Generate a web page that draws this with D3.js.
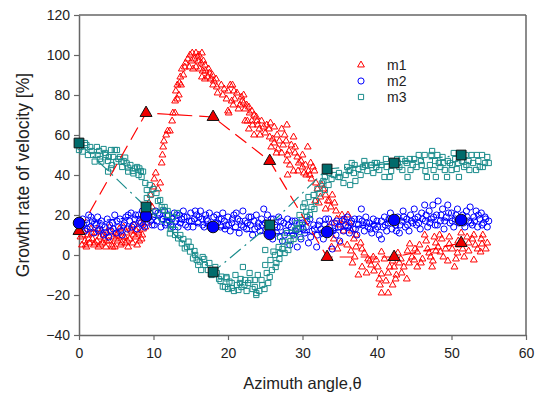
<!DOCTYPE html>
<html>
<head>
<meta charset="utf-8">
<script src="https://cdn.jsdelivr.net/npm/d3@7"></script>
<style>
  body { margin: 0; background: #fff; }
  svg text { font-family: Arial, "Liberation Sans", sans-serif; fill: #222; }
</style>
</head>
<body>
<div id="chart"></div>
<script>
// ---- data ----
const xTicks = [0, 10, 20, 30, 40, 50, 60];
const yTicks = [-40, -20, 0, 20, 40, 60, 80, 100, 120];
const seriesNames = ['m1', 'm2', 'm3'];

// averaged points (large markers, joined by dashed lines)
const keyAngles = [0, 9, 18, 25.6, 33.3, 42.3, 51.3];
const m1Key = [12, 71, 69, 47, -1, -1, 6];
const m2Key = [16, 19.5, 14, 10.5, 11.5, 17.5, 17.5];
const m3Key = [56, 24, -8.5, 15, 43, 46, 50];

// raw points [angle, growth rate]
const m1Pts = [
  [0.2,9],[0.4,5],[0.6,12],[0.8,7],[1.0,4],[1.2,10],[1.4,6],[1.6,13],[1.8,8],[2.0,5],[2.2,11],[2.4,7],
  [2.6,4],[2.8,9],[3.0,12],[3.2,6],[3.4,8],[3.6,4],[3.8,11],[4.0,7],[4.2,12],[4.4,5],[4.6,9],[4.8,4],
  [5.0,10],[5.2,7],[5.4,13],[5.6,5],[5.8,9],[6.0,14],[6.2,6],[6.4,11],[6.6,4],[6.8,8],[7.0,12],[7.2,6],
  [7.4,15],[7.6,9],[7.8,5],[8.0,11],[8.2,16],[8.4,8],[8.6,13],[8.8,18],
  [0.1,13],[0.5,10],[0.9,5],[1.3,8],[1.7,11],[2.1,6],[2.5,13],[2.9,5],[3.3,10],[3.7,7],[4.1,14],[4.5,4],
  [4.9,8],[5.3,11],[5.7,6],[6.1,9],[6.5,7],[6.9,13],[7.3,10],[7.7,12],[8.1,7],[8.5,10],[8.9,14],
  [9.0,22],[9.2,16],[9.4,26],[9.6,30],[9.8,24],[10.0,34],[10.1,38],[10.3,41],[10.6,33],[10.9,36],
  [11.1,46],[11.2,50],[11.3,54],[11.4,57],[11.7,60],[11.9,62],[12.2,62],[12.5,67],[12.6,71],[12.9,71],
  [12.9,77],[13.2,78],[13.4,80],[13.2,85],[13.5,86],[13.7,85],[13.6,89],[14.0,90],[13.8,93],[14.2,94],
  [14.6,98],[14.9,100],[13.0,82],[14.3,96],[14.8,94],[15.9,99],[16.9,95],[17.5,91],[17.9,90],[18.4,88],
  [15.2,101],[15.7,101],[16.1,100],[16.5,101],[15.1,97],[15.5,98],[16.0,97],[16.4,96],[16.7,97],
  [15.3,93],[15.7,94],[16.2,93],[16.6,92],[17.0,92],[17.4,93],[16.5,89],[16.9,88],[17.3,89],[17.7,88],
  [18.1,87],[18.0,85],[18.5,84],[19.1,85],[18.6,81],[19.3,80],[19.8,78],[20.0,72],
  [20.3,85],[20.6,85],[20.0,82],[20.8,82],[21.2,81],[21.8,79],[22.1,80],[20.5,77],[20.7,75],[21.6,75],
  [22.5,75],[22.1,76],[21.4,73],[22.3,73],[20.1,71],[22.9,71],[23.2,72],[23.5,70],[22.3,67],[22.6,67],
  [23.2,67],[23.9,67],[24.5,67],[25.7,66],[23.3,65],[24.0,65],[27.9,65],[22.8,63],[24.2,63],[25.5,63],
  [26.2,64],[27.2,63],[23.5,60],[24.3,60],[25.0,61],[25.6,59],[26.6,60],[27.6,60],[28.8,59],[25.8,54],
  [26.2,56],[26.7,53],[27.4,55],[28.5,55],[29.0,54],[30.7,54],[26.5,51],[27.2,51],[28.0,50],[29.0,51],
  [30.0,50],[27.9,47],[28.3,45],[29.5,46],[30.0,44],[31.1,46],[31.4,44],[28.8,42],[29.4,42],[30.2,41],
  [30.8,42],[31.6,42],[28.0,40],[30.5,40],[31.2,38],
  [19.5,83],[20.9,78],[21.9,77],[22.8,74],[23.8,69],[24.8,64],[25.2,65],[26.0,58],[26.9,57],[27.8,57],
  [28.2,52],[29.3,49],[29.8,47],[30.4,45],[31.0,40],[31.8,36],[32.8,33],[33.4,27],[34.5,22],[35.6,17],
  [32.6,35],[32.0,33],[33.1,30],[34.0,30],[32.4,29],[31.7,27],[32.2,26],[33.6,27],[34.3,26],[33.1,23],
  [33.8,24],[35.3,20],[36.1,20],[34.6,18],[33.9,16],[35.0,15],[36.3,16],[35.5,12],[36.6,12],[37.2,10],
  [34.2,8],[35.1,6],[33.9,4],[34.7,3],[36.0,5],[37.2,4],[36.5,2],[37.8,6],[38.3,1],[37.0,-1],[38.8,-2],
  [36.7,-4],[38.0,-6],[39.2,-5],[38.6,-9],[39.5,-1],[37.5,-10],[36.9,8],[38.0,3],[39.0,-3],[39.6,-8],
  [40.1,-6],[40.4,-15],[40.6,-19],[41.5,-19],[40.6,-9.5],[41.5,-9],[42.6,-10],[43.3,-9],[41.7,-6],
  [42.3,-6],[43.6,-6],[45.4,-6],[47.4,-6],[50.4,-6],[39.9,-2.5],[41.0,-2],[42.1,-3],[43.2,-2],[45.0,-2.5],
  [46.1,-2],[47.5,-3],[50.6,-2],[53.0,-2.5],[40.6,1.5],[42.8,1],[44.1,2],[45.4,1.5],[47.0,1],[47.9,2],
  [48.5,1.5],[50.8,1],[52.3,2],[53.9,1.5],[44.4,5.5],[45.7,5],[47.9,6],[49.7,5.5],[51.0,5],[52.3,6],
  [53.2,5],[54.1,5.5],[46.4,10],[48.4,10],[49.7,9],[53.0,10],[54.2,10],[42.1,-15],[44.7,-1],[46.8,3],
  [48.9,-1],[51.5,3],[52.8,8],[54.6,3],[49.2,3],[44.0,-12],
  [40.3,-12],[41.2,-13],[42.5,-12],[43.0,-4],[44.3,-4],[45.1,3],[45.9,-4],[46.6,7],[47.2,-1],[48.2,4],
  [48.7,8],[49.5,-3],[50.1,3],[50.9,7],[51.7,-1],[52.1,9],[53.5,3],[54.0,8],[54.8,6],[47.7,9],[51.3,11]
];

const m2Pts = [
  [0.3,14],[0.5,18],[0.8,12],[1.0,16],[1.3,20],[1.5,14],[1.8,17],[2.0,11],[2.3,15],[2.5,19],[2.8,13],[3.0,17],
  [3.3,10],[3.5,14],[3.8,18],[4.0,9],[4.3,12],[4.5,16],[4.8,20],[5.0,11],[5.3,14],[5.5,18],[5.8,10],[6.0,15],
  [6.3,19],[6.5,13],[6.8,17],[7.0,21],
  [7.3,15],[7.5,18],[7.8,13],[8.0,20],[8.3,16],[8.5,22],[8.8,14],[9.2,18],[9.5,21],[9.8,15],[10.0,19],
  [10.3,22],[10.5,17],[10.8,20],[11.0,14],[11.3,18],[11.5,22],[11.8,16],[12.0,20],
  [12.3,15],[12.5,18],[12.8,21],[13.0,17],[13.3,14],[13.5,20],[13.8,18],[14.0,22],[14.3,15],[14.5,19],
  [14.8,17],[15.0,21],[15.3,14],[15.5,18],[15.8,20],[16.0,16],[16.3,22],[16.5,18],[16.8,14],[17.0,20],
  [17.3,17],[17.5,21],[17.8,13],[18.3,16],[18.5,20],[18.8,18],[19.0,14],[19.3,21],[19.5,17],[19.8,15],
  [20.0,19],[20.3,12],[20.5,16],[20.8,20],[21.0,14],[21.3,18],[21.5,11],[21.8,15],[22.0,22],[22.3,17],
  [22.5,13],[22.8,19],[23.0,15],[23.3,10],[23.5,17],[23.8,20],[24.0,14],[24.3,12],[24.5,18],[24.8,23],[25.0,16],
  [25.3,20],[25.5,13],[25.8,18],[26.0,8],[26.3,15],[26.5,11],[26.8,19],[27.0,14],[27.3,7],[27.5,16],
  [27.8,12],[28.0,18],[28.3,5],[28.5,14],[28.8,10],[29.0,17],[29.3,4],[29.5,13],[29.8,8],
  [30.0,16],[30.3,11],[30.5,14],[30.8,6],[31.0,18],[31.3,12],[31.5,15],[31.9,4],[32.0,10],[32.3,17],
  [32.5,13],[32.8,8],[33.0,15],[33.5,18],[33.8,12],[34.0,3],[34.3,16],[34.5,10],[34.8,14],[35.0,7],
  [35.3,17],[35.5,12],[35.8,15],[36.0,19],[36.3,11],[36.5,16],[36.8,13],[37.0,18],[37.3,10],[37.5,15],
  [37.9,23],[38.0,17],[38.3,12],[38.5,19],[38.8,14],[39.0,16],[39.3,11],[39.5,18],[39.8,13],
  [40.0,17],[40.3,10],[40.6,8],[40.8,14],[41.0,19],[41.3,12],[41.5,16],[41.8,21],[42.0,13],[42.5,15],
  [42.8,19],[43.0,11],[43.3,17],[43.5,22],[43.8,14],[44.0,18],[44.3,12],[44.5,20],[44.8,16],[45.0,23],
  [45.3,15],[45.5,19],[45.8,13],[46.0,21],[46.4,25],[46.5,17],[46.8,14],[47.0,22],[47.3,18],[47.5,25],
  [47.8,15],[48.0,20],[48.2,27],[48.5,17],[48.8,23],[49.0,13],[49.3,19],[49.5,25],[49.8,16],[50.0,21],
  [50.3,14],[50.5,18],[50.8,23],[51.0,16],[51.5,20],[51.8,14],[52.0,22],[52.3,17],[52.5,24],[52.8,15],
  [53.0,19],[53.3,22],[53.5,14],[53.8,18],[54.0,21],[54.3,16],[54.5,19],[54.8,14],[55.0,17],
  [0.1,17],[0.6,15],[1.1,13],[1.6,19],[2.1,16],[2.6,12],[3.1,15],[3.6,11],[4.1,15],[4.6,13],[5.1,17],
  [5.6,12],[6.1,16],[6.6,20],[7.1,14],[7.6,20],[8.1,17],[8.6,15],[9.1,20],[9.6,17],[10.1,15],[10.6,21],
  [11.1,18],[11.6,15],[12.1,17],[12.6,14],[13.1,20],[13.6,16],[14.1,19],[14.6,14],[15.1,17],[15.6,22],
  [16.1,19],[16.6,15],[17.1,18],[17.6,15],[18.1,19],[18.6,16],[19.1,18],[19.6,13],[20.1,15],[20.6,18],
  [21.1,21],[21.6,17],[22.1,14],[22.6,16],[23.1,19],[23.6,13],[24.1,16],[24.6,15],[25.1,13],[25.6,16],
  [26.1,18],[26.6,14],[27.1,17],[27.6,10],[28.1,15],[28.6,17],[29.1,12],[29.6,16],[30.1,13],[30.6,17],
  [31.1,9],[31.6,13],[32.1,15],[32.6,11],[33.1,18],[33.6,14],[34.1,12],[34.6,17],[35.1,14],[35.6,18],
  [36.1,14],[36.6,17],[37.1,13],[37.6,18],[38.1,15],[38.6,16],[39.1,13],[39.6,15],[40.1,14],[40.6,17],
  [41.1,15],[41.6,18],[42.1,17],[42.6,12],[43.1,15],[43.6,19],[44.1,15],[44.6,17],[45.1,18],[45.6,16],
  [46.1,18],[46.6,20],[47.1,16],[47.6,19],[48.1,15],[48.6,20],[49.1,17],[49.6,21],[50.1,17],[50.6,20],
  [51.1,18],[51.6,16],[52.1,19],[52.6,16],[53.1,17],[53.6,20],[54.1,15],[54.6,18]
];

const m3Pts = [
  [0.8,56],[1.5,54],[2.4,54],[3.3,53],[4.3,52.5],[4.8,52.5],[5.1,52.5],[0.0,52.5],[0.5,51.7],[1.2,50],
  [1.9,50],[2.5,50],[3.6,50],[4.6,49],[5.5,49],[6.2,48.7],[2.1,46.7],[3.0,46.7],[3.9,47],[5.0,46.7],
  [5.7,46.7],[6.4,45.8],[6.6,43.7],[7.5,43.3],[8.1,43.3],[8.6,41.7],[3.9,41.7],[4.3,43.3],
  [0.2,54],[1.0,55],[1.7,52],[2.7,52],[3.5,51],[4.0,49],[5.3,48],[6.0,47],[6.9,45],[7.2,42],[7.8,44],
  [2.8,48],[4.4,45],[5.8,44],[8.3,42],
  [6.6,41.7],[7.3,40.8],[8.0,40],[8.4,39],[8.9,36],[9.1,32.5],[10.4,31],[9.1,28.5],[9.6,30],[10.9,27.5],
  [11.1,24],[11.5,24],[10.2,21.7],[11.3,22.5],[12.0,17.5],[12.4,15],[12.9,12.5],[12.2,10.8],[12.9,10],
  [13.3,8.3],[13.8,5.8],[14.2,3.3],[14.7,6.7],[14.5,4],[14.9,1.7],[15.3,-1.7],[15.8,-2.5],[16.2,-3.3],
  [16.9,-5],[16.4,-7.5],[17.3,-7.5],[17.8,-10],[19.1,-10.8],[19.8,-11.7],[19.3,-15.8],[20.2,-13.3],
  [12.6,19],[13.2,21],[11.8,20],[15.5,2],[16.6,-1],[18.3,-6],[18.8,-12],
  [9.5,35],[10.0,33],[10.6,27],[11.9,22],[12.3,13],[13.6,10],[14.0,8],[15.0,4],[15.6,0],[16.0,-5],
  [16.8,-2],[17.5,-4],[18.0,-8],[18.5,-9],[19.0,-13],[19.6,-16],
  [19.8,-11],[20.5,-14],[21.6,-14],[22.3,-12.5],[23.0,-12.5],[23.6,-12.5],[24.5,-12.5],[25.2,-9],
  [25.9,-7.5],[20.5,-16.5],[21.4,-17.5],[23.8,-19],[22.0,-6],[25.0,-5],[25.7,-2.5],[26.3,0],[27.0,1],
  [27.6,1],[28.1,2.5],[26.8,4],[26.1,1.7],[25.0,2.5],[27.6,6.7],[27.0,9],[27.9,11],[28.6,11],[29.0,12.5],
  [29.2,16],[29.9,17.5],[30.5,21.7],[31.2,24],[31.6,23],[30.1,24],[30.3,25.8],[30.8,29],[31.5,30],
  [32.3,30.8],[33.0,32.5],[33.5,35],[32.6,35.8],[23.6,-16],[23.8,-20],[22.5,-18],[24.6,-15],[21.0,-10],
  [26.5,-4],[28.4,7],[29.6,20],
  [20.0,-17],[20.8,-18],[21.2,-15],[21.8,-16],[22.2,-15],[22.7,-14],[23.3,-17],[24.2,-18],[24.9,-17],
  [25.4,-14],[24.0,-10],[22.9,-9],[21.7,-12],[25.6,-11],[26.4,-6],[26.9,-2],[27.3,3],[28.0,5],[28.8,8],
  [29.3,13],[29.7,9],[30.0,14],[30.6,19],[31.0,20],[31.8,27],[32.0,33],[32.8,37],
  [33.0,39],[33.9,38],[34.8,39],[35.5,36],[36.4,35],[37.1,37],[35.0,39],[36.2,42],[36.4,42.5],[36.9,41],
  [37.0,45],[37.5,43],[38.3,47],[38.4,45],[39.2,45],[39.3,45],[39.9,44],[39.7,46],[40.3,42.5],[41.0,39],
  [41.7,39],[42.4,46],[42.8,46],[42.7,48],[43.4,42.5],[44.1,39],[44.5,42.5],[45.0,48],[45.6,50],[46.4,50],
  [46.7,39],[47.3,50],[47.4,52],[47.6,42.5],[47.9,39],[48.1,50],[48.9,46],[49.1,42.5],[49.4,39],[49.8,46],
  [50.0,42.5],[50.5,48],[50.9,46],[51.0,39],[51.9,50],[52.4,42.5],[52.7,50],[53.3,42.5],[53.4,50],
  [54.1,50],[54.5,46],[55.0,46],[46.0,45],[43.8,47],[41.3,44],[53.8,44],[52.0,45],[44.8,45],[48.5,44],[50.3,51],
  [33.6,41],[34.2,40],[34.9,41],[35.8,40],[36.0,44],[36.6,46],[37.8,40],[38.1,44],[38.7,42],[39.5,41],
  [40.0,46],[40.6,45],[41.2,48],[41.9,42],[42.1,46],[43.0,44],[43.3,48],[44.0,46],[44.4,48],[45.3,44],
  [45.9,47],[46.5,42],[47.1,45],[47.8,47],[48.3,46],[48.8,49],[49.5,47],[50.1,45],[50.7,43],[51.4,47],
  [51.7,44],[52.3,47],[52.9,46],[53.6,47],[54.2,44],[54.8,49]
];

// ---- chart ----
class GrowthChart {
  constructor(_config) {
    this.config = {
      parentElement: _config.parentElement,
      width: _config.width || 539,
      height: _config.height || 402,
      margin: _config.margin || {top: 15, right: 13, bottom: 67, left: 79}
    };
    this.initVis();
  }

  initVis() {
    let vis = this;
    vis.width = vis.config.width - vis.config.margin.left - vis.config.margin.right;
    vis.height = vis.config.height - vis.config.margin.top - vis.config.margin.bottom;

    vis.svg = d3.select(vis.config.parentElement).append('svg')
        .attr('width', vis.config.width)
        .attr('height', vis.config.height);

    vis.chart = vis.svg.append('g')
        .attr('transform', `translate(${vis.config.margin.left},${vis.config.margin.top})`);

    vis.xScale = d3.scaleLinear().domain([0, 60]).range([0, vis.width]);
    vis.yScale = d3.scaleLinear().domain([-40, 120]).range([vis.height, 0]);

    vis.series = [
      {name: 'm1', pts: m1Pts, key: m1Key, color: '#ff0000', fill: '#ee0000', shape: d3.symbolTriangle, small: 20, big: 62, dash: '14,7'},
      {name: 'm2', pts: m2Pts, key: m2Key, color: '#0000ff', fill: '#0000ff', shape: d3.symbolCircle, small: 30, big: 105, dash: '9,5'},
      {name: 'm3', pts: m3Pts, key: m3Key, color: '#1a8c8c', fill: '#006b6b', shape: d3.symbolSquare, small: 27, big: 95, dash: '14,5,2,5'}
    ];

    vis.renderVis();
  }

  renderVis() {
    let vis = this;
    const axisColor = '#666';

    // frame top and right
    vis.chart.append('line')
        .attr('x1', 0).attr('x2', vis.width).attr('y1', 0).attr('y2', 0)
        .attr('stroke', axisColor).attr('stroke-width', 1.5);
    vis.chart.append('line')
        .attr('x1', vis.width).attr('x2', vis.width).attr('y1', 0).attr('y2', vis.height)
        .attr('stroke', axisColor).attr('stroke-width', 1.5);

    const xAxis = vis.chart.append('g')
        .attr('transform', `translate(0,${vis.height})`)
        .call(d3.axisBottom(vis.xScale).tickValues(xTicks).tickSize(5).tickPadding(8).tickSizeOuter(0));
    const yAxis = vis.chart.append('g')
        .call(d3.axisLeft(vis.yScale).tickValues(yTicks).tickSize(5).tickPadding(4).tickSizeOuter(0));

    [xAxis, yAxis].forEach(ax => {
      ax.select('.domain').attr('stroke', axisColor).attr('stroke-width', 1.5);
      ax.selectAll('.tick line').attr('stroke', axisColor).attr('stroke-width', 1.2);
      ax.selectAll('.tick text').style('font-size', '14px').attr('fill', '#222')
          .style('font-family', 'Arial, "Liberation Sans", sans-serif');
    });

    // axis titles
    vis.svg.append('text')
        .attr('x', vis.config.margin.left + vis.width / 2)
        .attr('y', 389)
        .attr('text-anchor', 'middle')
        .style('font-size', '16.5px')
        .text('Azimuth angle,\u03b8');
    vis.svg.append('text')
        .attr('transform', `translate(29,${vis.config.margin.top + vis.height / 2}) rotate(-90)`)
        .attr('text-anchor', 'middle')
        .style('font-size', '17.5px')
        .text('Growth rate of velocity [%]');

    // raw points
    vis.series.forEach(s => {
      vis.chart.append('g').selectAll('path')
          .data(s.pts)
        .join('path')
          .attr('d', d3.symbol().type(s.shape).size(s.small))
          .attr('transform', d => `translate(${vis.xScale(d[0])},${vis.yScale(d[1])})`)
          .attr('fill', 'none')
          .attr('stroke', s.color)
          .attr('stroke-width', 1);
    });

    // averaged lines and markers
    const line = d3.line()
        .x((d, i) => vis.xScale(keyAngles[i]))
        .y(d => vis.yScale(d));

    vis.series.forEach(s => {
      vis.chart.append('path')
          .datum(s.key)
          .attr('d', line)
          .attr('fill', 'none')
          .attr('stroke', s.color)
          .attr('stroke-width', 1.2)
          .attr('stroke-dasharray', s.dash);
    });

    vis.series.forEach(s => {
      vis.chart.append('g').selectAll('path')
          .data(s.key)
        .join('path')
          .attr('d', d3.symbol().type(s.shape).size(s.big))
          .attr('transform', (d, i) => `translate(${vis.xScale(keyAngles[i])},${vis.yScale(d)})`)
          .attr('fill', s.fill)
          .attr('stroke', '#111')
          .attr('stroke-width', 1);
    });

    // legend
    const legend = vis.svg.append('g').attr('transform', 'translate(361,65)');
    legend.selectAll('path')
        .data(vis.series)
      .join('path')
        .attr('d', d => d3.symbol().type(d.shape).size(d.small)())
        .attr('transform', (d, i) => `translate(0,${i * 16})`)
        .attr('fill', 'none')
        .attr('stroke', d => d.color);
    legend.selectAll('text')
        .data(seriesNames)
      .join('text')
        .attr('x', 26)
        .attr('y', (d, i) => i * 16 + 5)
        .style('font-size', '14px')
        .text(d => d);
  }
}

new GrowthChart({parentElement: '#chart'});
</script>
</body>
</html>
